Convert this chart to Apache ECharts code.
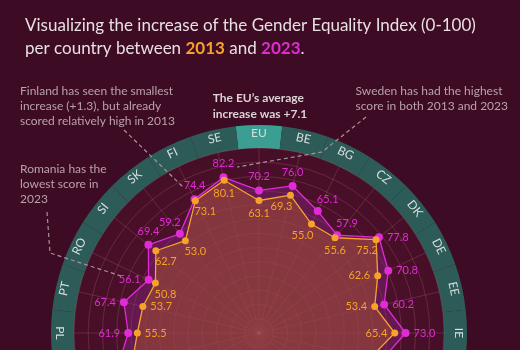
<!DOCTYPE html>
<html>
<head>
<meta charset="utf-8">
<script src="https://cdn.jsdelivr.net/npm/echarts@6/dist/echarts.min.js"></script>
<style>
html, body { margin: 0; padding: 0; background: #3d0b23; }
#main { width: 520px; height: 350px; }
</style>
</head>
<body>
<div id="main"></div>
<script>
// countries clockwise from the top
var countries = ['EU','BE','BG','CZ','DK','DE','EE','IE','EL','ES','FR','HR','IT','CY','LV','LT','LU','HU','MT','NL','AT','PL','PT','RO','SI','SK','FI','SE'];
var score2013 = [63.1,69.3,55.0,55.6,75.2,62.6,53.4,65.4,50.0,68.3,66.2,52.6,53.3,50.6,55.2,54.2,65.9,50.8,55.9,74.0,61.3,55.5,53.7,50.8,62.7,53.0,73.1,80.1];
var score2023 = [70.2,76.0,65.1,57.9,77.8,70.8,60.2,73.0,58.0,76.4,75.7,60.7,68.2,60.9,61.5,64.1,73.6,57.3,65.5,77.9,71.3,61.9,67.4,56.1,69.4,59.2,74.4,82.2];

// where the value labels sit
var pos2023 = ['top','top','tr','tr','right','right','right','right','right','right','bottom','bottom','bottom','bottom','bottom','bottom','bottom','bottom','left','left','left','left','left','left','top','tl','top','top'];
var pos2013 = ['bottom','bl','bl','bottom','bl','left','left','left','left','left','top','top','top','top','top','top','top','top','right','right','right','right','right','br','br','br','br','bottom'];

var C13 = '#f7a22b', C23 = '#e02bd6';
var cx = 259, cy = 333, R = 185;

function labelCfg(p) {
    var m = {
        tr: ['top', [10, 2]], tl: ['top', [-10, 2]],
        br: ['bottom', [10, -2]], bl: ['bottom', [-9, -2]]
    };
    if (m[p]) return { position: m[p][0], offset: m[p][1] };
    return { position: p };
}

function buildData(vals, pos) {
    var out = [];
    for (var i = 0; i < vals.length; i++) {
        out.push({ value: [vals[i], i], label: labelCfg(pos[i]) });
    }
    // close the loop
    out.push({ value: [vals[0], vals.length], symbol: 'none', label: { show: false } });
    return out;
}

function lineSeries(name, vals, pos, color, areaColor, size) {
    return {
        name: name,
        type: 'line',
        coordinateSystem: 'polar',
        data: buildData(vals, pos),
        symbol: 'circle',
        symbolSize: size,
        lineStyle: { color: color, width: 1.3 },
        itemStyle: { color: color },
        areaStyle: { color: areaColor, origin: 'start' },
        label: {
            show: true,
            color: color,
            fontSize: 11,
            fontFamily: 'Lato',
            distance: 4,
            formatter: function (p) { return p.value[0].toFixed(1); }
        },
        silent: true,
        z: 5
    };
}

var ringData = countries.map(function (c, i) {
    return {
        name: c, value: 1,
        itemStyle: { color: i === 0 ? '#3a9e92' : '#2d5c58' }
    };
});

var gridLine = { color: 'rgba(225,140,140,0.2)', width: 1 };
var dash = { stroke: '#a9929c', lineWidth: 1.2, lineDash: [4, 3] };
var noteStyle = { fill: '#b9a2ac', fontSize: 12, fontFamily: 'Lato', lineHeight: 15 };

var myChart = echarts.init(document.getElementById('main'));
var option = {
    backgroundColor: '#3d0b23',
    animation: false,
    title: {
        left: 20,
        top: 9,
        text: 'Visualizing the increase of the Gender Equality Index (0-100)\nper country between {a|2013} and {b|2023}.',
        textStyle: {
            color: '#e9e0e3', fontSize: 17, fontWeight: 'normal', fontFamily: 'Lato', lineHeight: 23,
            rich: {
                a: { color: C13, fontWeight: 'bold', fontSize: 17, fontFamily: 'Lato' },
                b: { color: C23, fontWeight: 'bold', fontSize: 17, fontFamily: 'Lato' }
            }
        }
    },
    polar: { center: [cx, cy], radius: R },
    angleAxis: {
        type: 'value', min: 0, max: countries.length, interval: 1,
        startAngle: 90, clockwise: true, z: 4,
        axisLine: { show: false }, axisTick: { show: false }, axisLabel: { show: false },
        splitLine: { show: true, lineStyle: gridLine }
    },
    radiusAxis: {
        type: 'value', min: -30, max: 100, interval: 10, z: 4,
        axisLine: { show: false }, axisTick: { show: false }, axisLabel: { show: false },
        splitLine: { show: true, lineStyle: gridLine }
    },
    graphic: [
        { type: 'text', left: 20, top: 84, style: Object.assign({ text: 'Finland has seen the smallest\nincrease (+1.3), but already\nscored relatively high in 2013' }, noteStyle) },
        { type: 'text', left: 20, top: 162, style: Object.assign({ text: 'Romania has the\nlowest score in\n2023' }, noteStyle) },
        { type: 'text', right: 12, top: 84, style: Object.assign({ text: 'Sweden has had the highest\nscore in both 2013 and 2023', align: 'right' }, noteStyle) },
        { type: 'text', left: 'center', top: 90, style: { text: 'The EU\u2019s average\nincrease was +7.1', align: 'center', fill: '#ddd2d6', fontSize: 12, fontWeight: 'bold', fontFamily: 'Lato', lineHeight: 16 } },
        { type: 'polyline', shape: { points: [[124, 130], [183, 187]] }, style: dash, z: 10 },
        { type: 'polyline', shape: { points: [[366, 117], [322, 152], [237, 167]] }, style: dash, z: 10 },
        { type: 'polyline', shape: { points: [[47, 212], [50, 253], [121, 276]] }, style: dash, z: 10 }
    ],
    series: [
        {
            type: 'pie',
            center: [cx, cy],
            radius: [0, R],
            silent: true,
            z: 1,
            label: { show: false },
            data: [{
                value: 1,
                itemStyle: {
                    color: new echarts.graphic.RadialGradient(0.5, 0.5, 0.5, [
                        { offset: 0, color: '#5c2034' },
                        { offset: 0.5, color: '#4e122c' },
                        { offset: 1, color: '#470e28' }
                    ])
                }
            }]
        },
        {
            type: 'pie',
            center: [cx, cy],
            radius: [R, R + 23],
            startAngle: 90 + 180 / countries.length,
            clockwise: true,
            silent: true,
            label: {
                show: true,
                position: 'inside',
                rotate: 'tangential',
                color: '#d6dedc',
                fontSize: 12,
                fontFamily: 'Lato'
            },
            labelLine: { show: false },
            itemStyle: { borderWidth: 0 },
            data: ringData
        },
        lineSeries('2023', score2023, pos2023, C23, 'rgba(140,40,140,0.55)', 8),
        lineSeries('2013', score2013, pos2013, C13, 'rgba(160,78,48,0.78)', 7)
    ]
};
myChart.setOption(option);
</script>
</body>
</html>
